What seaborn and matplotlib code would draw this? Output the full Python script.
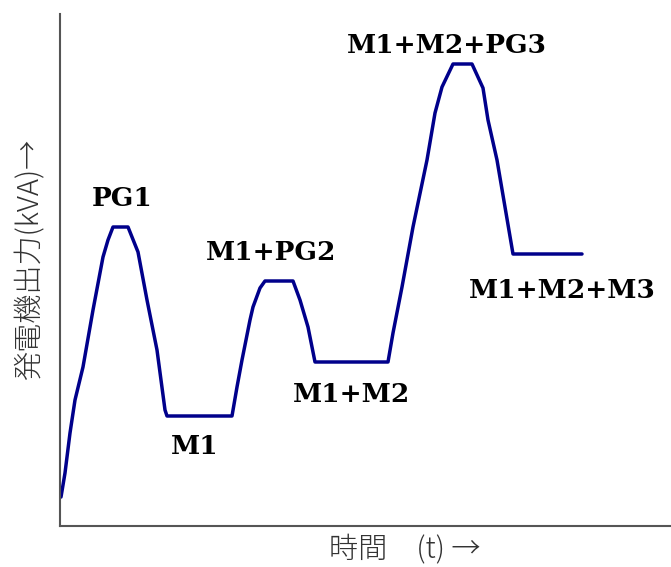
import seaborn as sns
import matplotlib.pyplot as plt
import pandas as pd

# time (t) and generator output (kVA), arbitrary units
time = [1, 5, 10, 15, 23, 33, 43, 48, 53, 68, 78, 87, 97, 105, 107,
        172, 177, 182, 190, 193, 200, 205, 233, 240, 248, 255,
        328, 333, 342, 353, 367, 375, 382, 393, 412, 423, 428, 437, 445, 453, 522]
output = [29, 53, 93, 126, 159, 216, 269, 286, 299, 299, 274, 226, 176, 116, 110,
          110, 139, 166, 206, 219, 238, 245, 245, 226, 199, 164,
          164, 193, 239, 299, 366, 413, 439, 462, 462, 438, 406, 366, 319, 272, 272]

label_text = ["PG1", "M1+PG2", "M1", "M1+M2", "M1+M2+PG3", "M1+M2+M3"]
label_t = [62, 211, 135, 292, 387, 502]
label_p = [328, 274, 80, 132, 481, 236]

df = pd.DataFrame({"t": time, "kva": output})

sns.set_style("white")
fig = plt.figure(figsize=(6.71, 5.67), dpi=100)
ax = fig.add_axes([60 / 671, 41 / 567, 611 / 671, 512 / 567])

sns.lineplot(data=df, x="t", y="kva", sort=False, color="#00008B", linewidth=2.5, ax=ax)

for txt, t, p in zip(label_text, label_t, label_p):
    ax.text(t, p, txt, ha="center", va="center", fontsize=19, fontweight="bold",
            family="DejaVu Serif", color="black")

ax.set_xlim(0, 611)
ax.set_ylim(0, 512)
ax.set_xticks([])
ax.set_yticks([])
for side in ["top", "right"]:
    ax.spines[side].set_visible(False)
for side in ["left", "bottom"]:
    ax.spines[side].set_color("#555555")
    ax.spines[side].set_linewidth(1.5)

ax.set_xlabel("")
ax.set_ylabel("")
cjk = ["Noto Sans CJK JP", "DejaVu Sans"]
fig.text(405 / 671, 1 - 550 / 567, "時間　(t) →", ha="center", va="center",
         fontsize=21, color="#333333", fontweight="light", family=cjk)
fig.text(30 / 671, 1 - 259 / 567, "発電機出力(kVA)→", ha="center", va="center",
         rotation=90, fontsize=21, color="#333333", fontweight="light", family=cjk)

fig.savefig("out.png", dpi=100)
